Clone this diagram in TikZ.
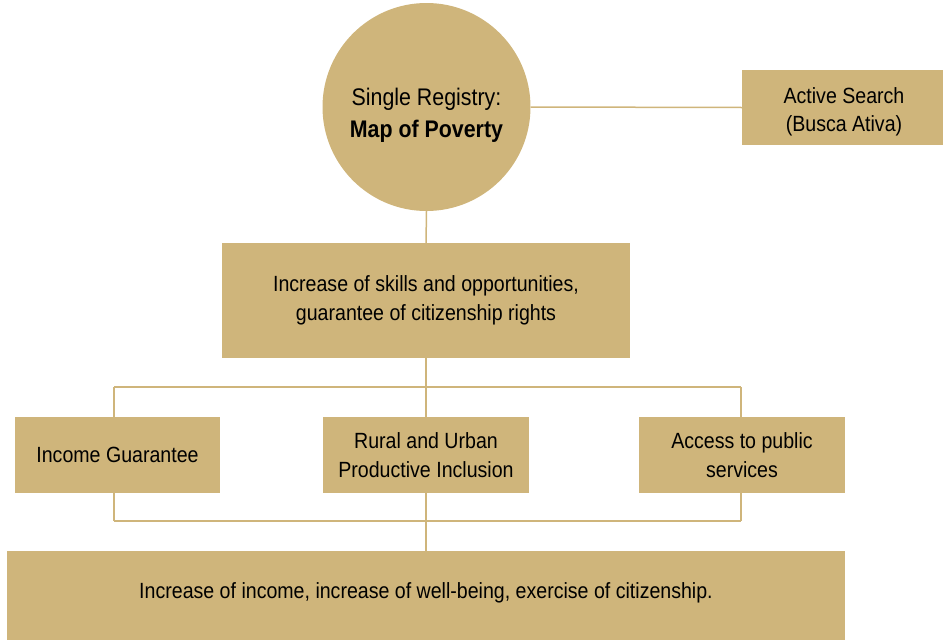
\documentclass[tikz,border=0pt]{standalone}
\usepackage{fontspec}
\setmainfont{Liberation Sans}[FakeStretch=0.89]
\definecolor{gold}{HTML}{CFB57B}
\begin{document}
\begin{tikzpicture}[x=1pt,y=-1pt,
  box/.style={fill=gold,draw=none,inner sep=0pt,align=center,font=\fontsize{22}{28.5}\selectfont},
  conn/.style={draw=gold,line width=1.5pt}]
\useasboundingbox (0,0) rectangle (943,640);
\node[circle,fill=gold,minimum size=208pt,inner sep=0pt] (reg) at (426.5,107) {};
\node[align=center,inner sep=0pt,font=\fontsize{24}{32}\selectfont] (regt) at (426.5,115) {Single Registry:\\\textbf{Map of Poverty}};
\node[box,minimum width=201pt,minimum height=75pt] (act) at (842.5,107.5) {};
\node[align=center,inner sep=0pt,font=\fontsize{22}{28.5}\selectfont] (actt) at (844,112) {Active Search\\(Busca Ativa)};
\node[box,minimum width=408pt,minimum height=115pt] (inc) at (426,300.5) {Increase of skills and opportunities,\\guarantee of citizenship rights};
\node[box,minimum width=205pt,minimum height=76pt] (ig) at (117.5,455) {Income Guarantee};
\node[box,minimum width=206pt,minimum height=76pt] (ru) at (426,455) {Rural and Urban\\Productive Inclusion};
\node[box,minimum width=206pt,minimum height=76pt] (ac) at (742,455) {Access to public\\services};
\node[box,minimum width=838pt,minimum height=89pt] (out) at (426,595.5) {};
\node[inner sep=0pt,font=\fontsize{22}{28.5}\selectfont] (outt) at (426,593) {Increase of income, increase of well-being, exercise of citizenship.};
\coordinate (tl) at (114,387);
\coordinate (tr) at (741,387);
\coordinate (bl) at (114,521);
\coordinate (br) at (741,521);
\draw[conn] (reg.east) -- (act.west);
\draw[conn] (reg.south) -- (inc.north);
\draw[conn] (inc.south) -- (ru.north);
\draw[conn] (tl) -- (tr);
\draw[conn] (tl) -- (tl |- ig.north);
\draw[conn] (tr) -- (tr |- ac.north);
\draw[conn] (bl) -- (br);
\draw[conn] (bl) -- (bl |- ig.south);
\draw[conn] (br) -- (br |- ac.south);
\draw[conn] (ru.south) -- (out.north);
\end{tikzpicture}
\end{document}
